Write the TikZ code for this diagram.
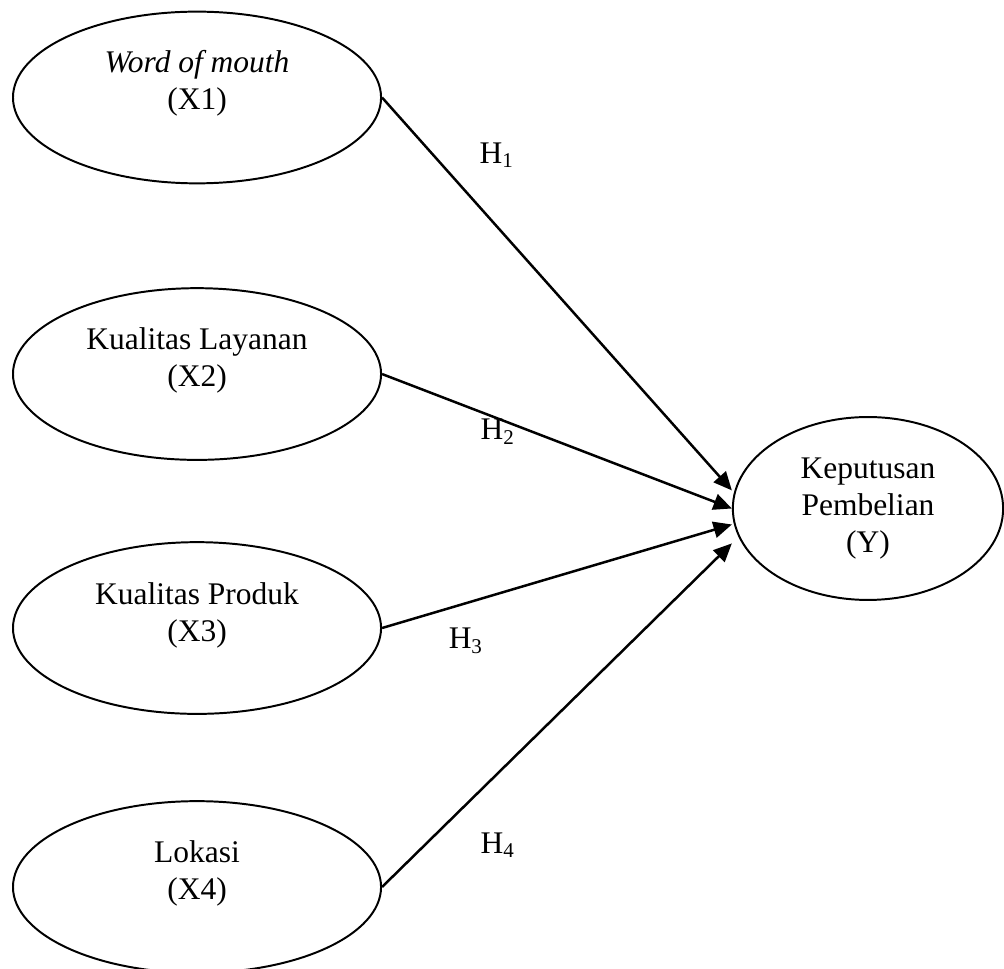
\documentclass[tikz,border=0pt]{standalone}
\usepackage{fontspec}
\setmainfont{Liberation Serif}
\usepackage{tikz}
\usetikzlibrary{shapes.geometric, arrows.meta, positioning}
\tikzset{
	>={Triangle[length=7pt,width=6.2pt]}, % solid triangle heads
	latent/.style={ellipse, draw, line width=0.75pt, minimum width=4.93cm, minimum height=2.30cm, inner sep=0pt}, %the four X variables
	target/.style={ellipse, draw, line width=0.75pt, minimum width=3.62cm, minimum height=2.45cm, align=center, inner sep=0pt}, %the Y variable
	path/.style={->, line width=0.95pt}, %arrows between the variables
}

\begin{document}
\begin{tikzpicture}[font=\fontsize{12}{14}\selectfont]
			\useasboundingbox (0,0) rectangle (13.448,12.966);
			% independent variables
			\node[latent] (x1) at (2.639,11.660) {};
			\node[latent] (x2) at (2.639,7.956) {};
			\node[latent] (x3) at (2.639,4.554) {};
			\node[latent] (x4) at (2.639,1.085) {};
			\node[align=center] (x1text) at ([yshift=5.3pt]x1.center) {\textit{Word of mouth}\\(X1)};
			\node[align=center] (x2text) at ([yshift=5.3pt]x2.center) {Kualitas Layanan\\(X2)};
			\node[align=center] (x3text) at ([yshift=4.8pt]x3.center) {Kualitas Produk\\(X3)};
			\node[align=center] (x4text) at ([yshift=5.3pt]x4.center) {Lokasi\\(X4)};
			% dependent variable
			\node[target] (y) at (11.626,6.155) {Keputusan\\Pembelian\\(Y)};
			\coordinate (y1) at ([yshift=6.9pt]y.west);
			\coordinate (y2) at (y.west);
			\coordinate (y3) at ([yshift=-6.1pt]y.west);
			\coordinate (y4) at ([yshift=-13.3pt]y.west);
			% hypotheses
			\draw[path] (x1.east) -- (y1);
			\draw[path] (x2.east) -- (y2);
			\draw[path] (x3.east) -- (y3);
			\draw[path] (x4.east) -- (y4);
			\node (h1) at (6.657,10.889) {H\textsubscript{1}};
			\node (h2) at (6.670,7.179) {H\textsubscript{2}};
			\node (h3) at (6.242,4.380) {H\textsubscript{3}};
			\node (h4) at (6.670,1.647) {H\textsubscript{4}};
		\end{tikzpicture}
\end{document}
